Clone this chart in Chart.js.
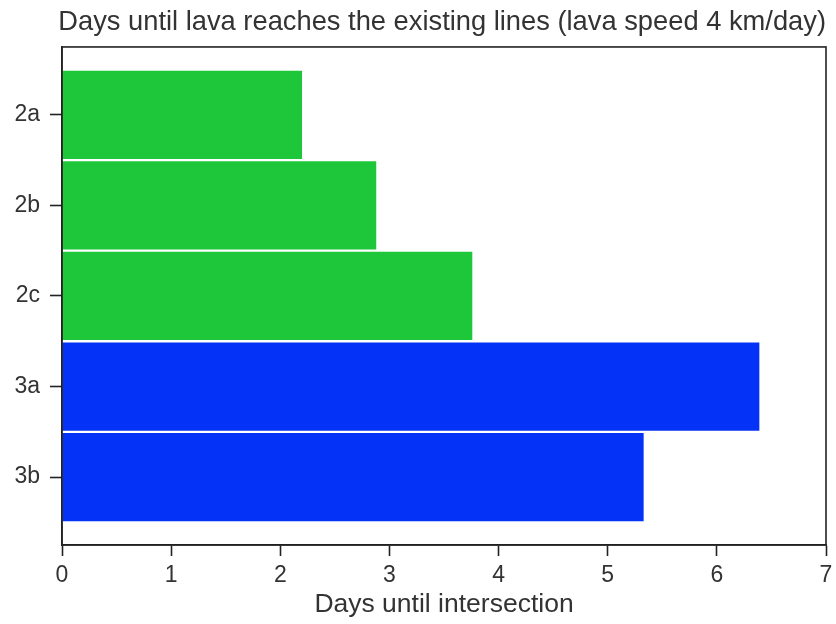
<!DOCTYPE html>
<html>
<head>
<meta charset="utf-8">
<script src="https://cdn.jsdelivr.net/npm/chart.js@4"></script>
<style>
  html, body { margin: 0; padding: 0; background: #fff; }
  #wrap { width: 836px; height: 624px; position: relative; }
</style>
</head>
<body>
<div id="wrap"><canvas id="c" width="836" height="624"></canvas></div>
<script>
// ---- data ----
const categories = ['2a', '2b', '2c', '3a', '3b'];
const daysUntil = [2.21, 2.89, 3.77, 6.40, 5.34];
const barColors = ['#1dc739', '#1dc739', '#1dc739', '#0532f7', '#0532f7'];
const xTicks = [0, 1, 2, 3, 4, 5, 6, 7];
const titleText = 'Days until lava reaches the existing lines (lava speed 4 km/day)';
const xLabel = 'Days until intersection';

const FONT = "'Liberation Sans', Arial, sans-serif";
const INK = '#222';
const TXT = '#333';

const points = categories.map((c, i) => ({ x: daysUntil[i], y: i }));

const frame = {
  id: 'frame',
  afterDatasetsDraw(chart) {
    const a = chart.chartArea;
    const ctx = chart.ctx;
    ctx.save();
    ctx.strokeStyle = INK;
    ctx.lineWidth = 1.6;
    ctx.strokeRect(a.left, a.top, a.right - a.left, a.bottom - a.top);
    ctx.restore();
  }
};

new Chart(document.getElementById('c'), {
  type: 'bar',
  data: {
    datasets: [{
      data: points,
      backgroundColor: barColors,
      borderColor: '#ffffff',
      borderWidth: 1.5,
      borderSkipped: 'start',
      barPercentage: 1,
      categoryPercentage: 1
    }]
  },
  options: {
    indexAxis: 'y',
    responsive: false,
    animation: false,
    devicePixelRatio: 1,
    layout: { padding: { left: 0, right: 10, top: 0, bottom: 0 } },
    plugins: {
      legend: { display: false },
      tooltip: { enabled: false },
      title: {
        display: true,
        text: titleText,
        align: 'end',
        color: TXT,
        font: { family: FONT, size: 27.3, weight: 'normal', lineHeight: 1.2 },
        padding: { top: 6, bottom: 8.2 }
      }
    },
    scales: {
      x: {
        type: 'linear',
        min: 0,
        max: 7,
        afterBuildTicks: (s) => { s.ticks = xTicks.map(v => ({ value: v })); },
        afterFit: (s) => { s.height = 79; s.paddingRight = 0; s.paddingLeft = 0; },
        border: { display: true, color: INK, width: 1.6 },
        grid: { display: true, drawOnChartArea: false, drawTicks: true, tickLength: 11, tickColor: INK, tickWidth: 1.6 },
        ticks: { color: TXT, padding: 6, font: { family: FONT, size: 23 } },
        title: {
          display: true,
          text: xLabel,
          color: TXT,
          font: { family: FONT, size: 26.5, lineHeight: 1.2 },
          padding: { top: 0, bottom: 3.5 }
        }
      },
      y: {
        type: 'linear',
        min: -0.75,
        max: 4.75,
        reverse: true,
        offset: false,
        afterBuildTicks: (s) => { s.ticks = categories.map((c, i) => ({ value: i })); },
        afterFit: (s) => { s.width = 62; },
        border: { display: true, color: INK, width: 1.6 },
        grid: { display: true, offset: false, drawOnChartArea: false, drawTicks: true, tickLength: 12, tickColor: INK, tickWidth: 1.6 },
        ticks: {
          color: TXT,
          padding: 10,
          font: { family: FONT, size: 23 },
          callback: (v) => categories[v] !== undefined ? categories[v] : ''
        }
      }
    }
  },
  plugins: [frame]
});
</script>
</body>
</html>
